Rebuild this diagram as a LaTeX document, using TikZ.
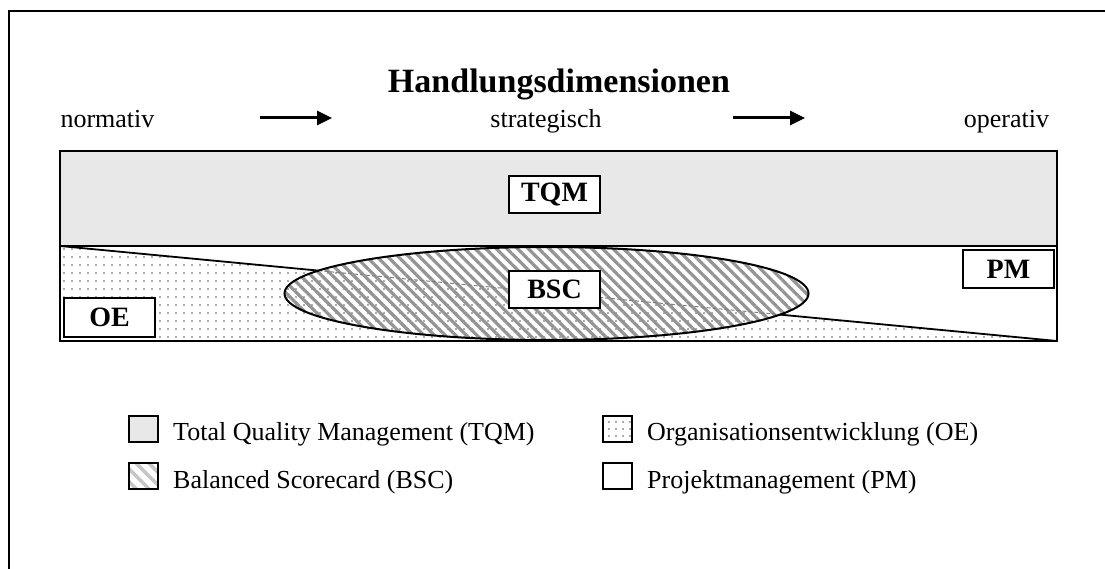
\documentclass[tikz,border=0pt]{standalone}
\usepackage{fontspec}
\setmainfont{Liberation Serif}
\usetikzlibrary{patterns.meta,intersections,arrows.meta}

\definecolor{tqmgray}{gray}{0.91}
\definecolor{stripegray}{gray}{0.58}
\definecolor{dotgray}{gray}{0.35}

\begin{document}
\begin{tikzpicture}[x=1pt,y=-1pt,
  frame/.style={line width=2pt},
  bar/.style={draw, line width=2pt},
  tag/.style={draw, line width=2pt, fill=white, inner sep=0pt,
    minimum width=91pt, minimum height=37pt,
    font=\fontsize{28}{30}\selectfont\bfseries},
  txt/.style={inner sep=0pt, font=\fontsize{26}{30}\selectfont},
  title/.style={inner sep=0pt, font=\fontsize{34}{38}\selectfont\bfseries},
  swatch/.style={draw, line width=1.5pt, inner sep=0pt,
    minimum width=29pt, minimum height=26pt},
  dotfill/.style={pattern={Dots[distance=8pt, radius=0.8pt]}, pattern color=dotgray},
  stripefill/.style={pattern={Lines[angle=-45, distance=7.5pt, line width=3.2pt]}, pattern color=stripegray},
  flow/.style={line width=3pt, -{Triangle[length=15pt, width=14pt]}}
]
\useasboundingbox (0,0) rectangle (1105,569);
\clip (0,0) rectangle (1105,569);

% outer frame
\draw[frame] (9,11) rectangle (1130,600);

% heading and the three dimensions
\node[title, anchor=base] (head) at (559,93) {Handlungsdimensionen};
\node[txt, anchor=base] (norm) at (107.5,128) {normativ};
\node[txt, anchor=base] (strat) at (546,128) {strategisch};
\node[txt, anchor=base] (oper) at (1006.5,128) {operativ};
\coordinate (a1s) at (260,118);
\coordinate (a1e) at (332,118);
\coordinate (a2s) at (733,118);
\coordinate (a2e) at (805,118);
\draw[flow] (a1s) -- (a1e);
\draw[flow] (a2s) -- (a2e);

% corner points of the lower band
\coordinate (tl) at (60,246);
\coordinate (br) at (1057,341);
\coordinate (bl) at (60,341);

% OE: dotted triangle
\fill[dotfill] (tl) -- (br) -- (bl) -- cycle;

% BSC: striped ellipse
\path[stripefill, name path=ell] (546.5,293.5) ellipse [x radius=262pt, y radius=46.5pt];

% diagonal border between OE and PM
\path[name path=diag] (tl) -- (br);
\path[name intersections={of=diag and ell, by={i1,i2}, sort by=diag}];
\draw[line width=1.8pt] (tl) -- (i1);
\draw[line width=1.8pt] (i2) -- (br);
\draw[line width=1pt, gray, dash pattern=on 4pt off 2pt] (i1) -- (i2);

\draw[line width=2pt] (546.5,293.5) ellipse [x radius=262pt, y radius=46.5pt];

% TQM band and lower band
\draw[bar, fill=tqmgray] (60,151) rectangle (1057,246);
\draw[bar] (tl) rectangle (br);

% labels
\node[tag] (tqm) at (554.5,194.5) {TQM};
\node[tag] (bsc) at (554.5,289.5) {BSC};
\node[tag, minimum height=39pt] (oe) at (109.5,317.5) {OE};
\node[tag, minimum height=38pt] (pm) at (1008.5,269) {PM};

% legend
\node[swatch, fill=tqmgray] (s1) at (143.5,429) {};
\node[swatch, pattern={Lines[angle=-45, distance=9pt, line width=3.5pt]}, pattern color=gray!45] (s2) at (143.5,476) {};
\node[swatch, pattern={Dots[distance=7pt, radius=0.8pt]}, pattern color=dotgray] (s3) at (617.5,429) {};
\node[swatch] (s4) at (617.5,476) {};
\node[txt, anchor=base west] (l1) at (173,440) {Total Quality Management (TQM)};
\node[txt, anchor=base west] (l2) at (173,488) {Balanced Scorecard (BSC)};
\node[txt, anchor=base west] (l3) at (647,440) {Organisationsentwicklung (OE)};
\node[txt, anchor=base west] (l4) at (647,488) {Projektmanagement (PM)};
\end{tikzpicture}
\end{document}
